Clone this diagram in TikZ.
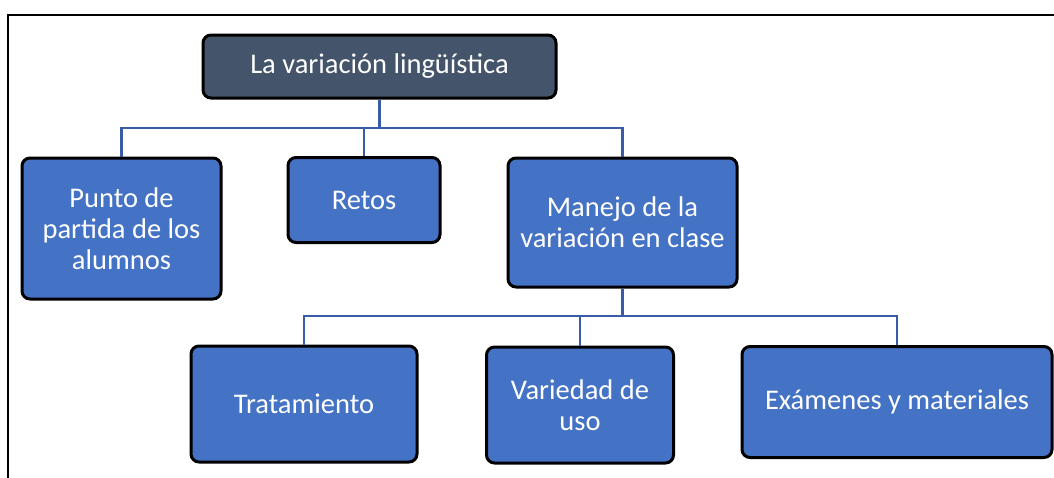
\documentclass[tikz,border=0pt]{standalone}
\usepackage{fontspec}
\setmainfont{Carlito}
\definecolor{boxblue}{RGB}{68,114,196}
\definecolor{slate}{RGB}{68,84,106}
\definecolor{linkblue}{RGB}{56,93,166}
\tikzset{
    box/.style={draw=black, line width=3pt, rounded corners=8pt, fill=boxblue,
        text=white, align=center, inner sep=0pt,
        font=\fontsize{28.5}{31}\selectfont},
    topbox/.style={box, fill=slate},
    link/.style={linkblue, line width=2.4pt}
}
\begin{document}
\begin{tikzpicture}[x=1pt, y=-1pt]
    \useasboundingbox (0,0) rectangle (1054,477);
    \fill[white] (0,0) rectangle (1054,477);

    % frame
    \draw[line width=2pt] (8,490) -- (8,15) -- (1070,15);

    % boxes
    \node[topbox, minimum width=353pt, minimum height=63pt] (top) at (379.5,66.5) {La variación lingüística};
    \node[box, minimum width=199pt, minimum height=141pt] (punto) at (121.5,228.5) {Punto de\\partida de los\\alumnos};
    \node[box, minimum width=152pt, minimum height=85pt] (retos) at (364,200) {Retos};
    \node[box, minimum width=229pt, minimum height=129pt] (manejo) at (622.5,222.5) {Manejo de la\\variación en clase};
    \node[box, minimum width=226pt, minimum height=116pt] (trat) at (304,404) {Tratamiento};
    \node[box, minimum width=187pt, minimum height=116pt] (variedad) at (580,405) {Variedad de\\uso};
    \node[box, minimum width=310pt, minimum height=111pt] (examenes) at (897,402) {Exámenes y materiales};

    % connectors
    \coordinate (bus1) at (379.5,128);
    \coordinate (bus2) at (622.5,316);
    \draw[link] (top.south) -- (bus1);
    \foreach \n in {punto,retos,manejo} \draw[link] (\n.north) |- (bus1);
    \draw[link] (manejo.south) -- (bus2);
    \foreach \n in {trat,variedad,examenes} \draw[link] (\n.north) |- (bus2);
\end{tikzpicture}
\end{document}
